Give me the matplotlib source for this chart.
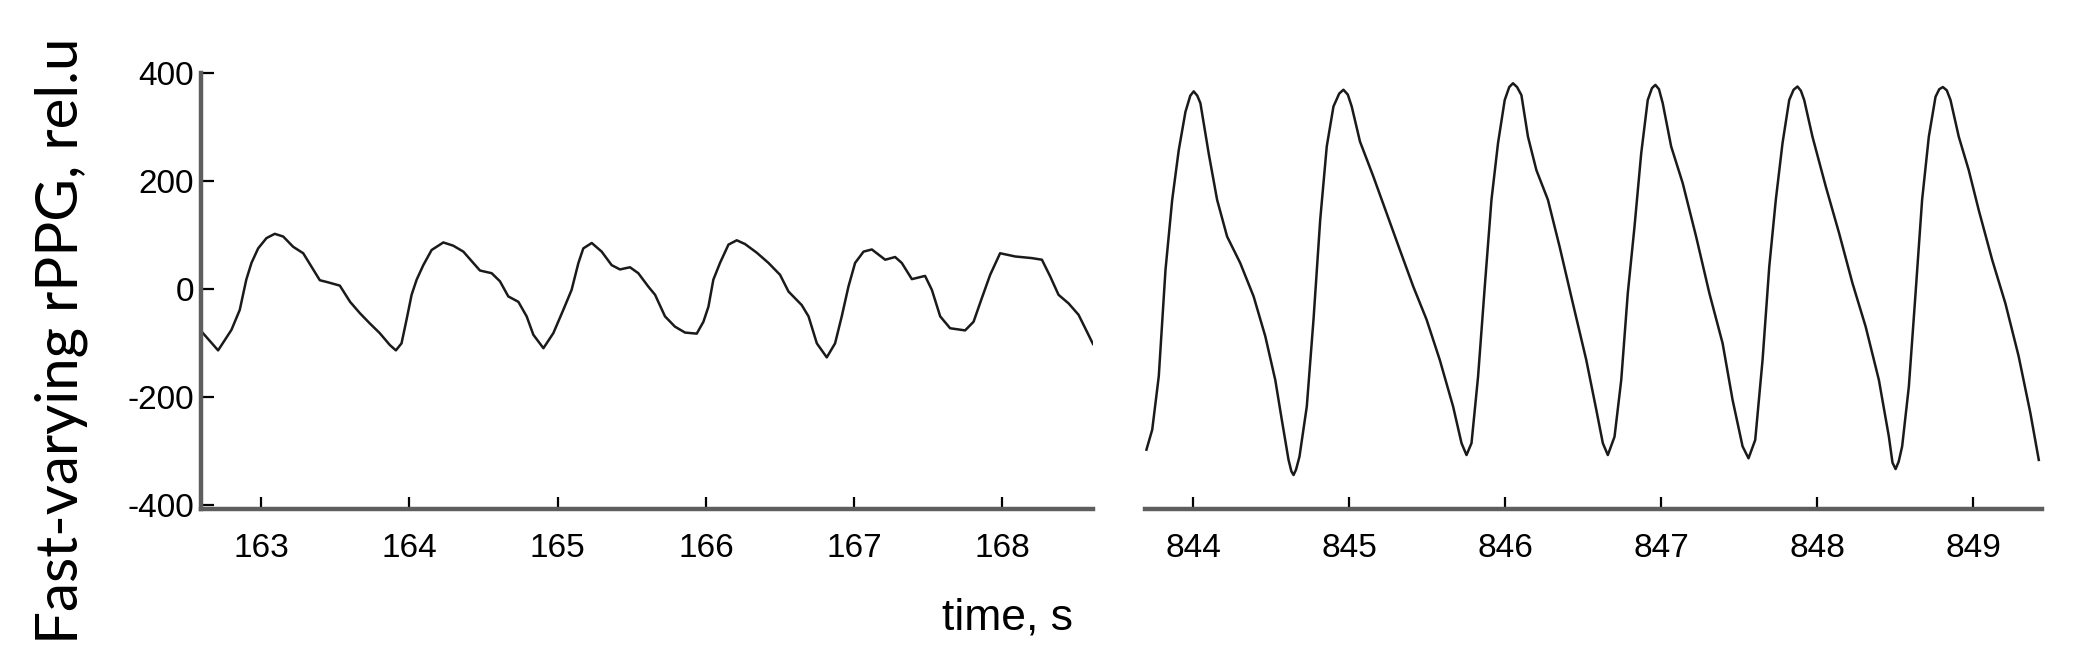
import matplotlib
matplotlib.use("Agg")
import matplotlib.pyplot as plt

plt.rcParams['axes.unicode_minus'] = False

# rPPG traces (time in s, value in rel.u)
left_t = [162.598, 162.71, 162.80, 162.856, 162.90, 162.935, 162.98, 163.036, 163.092, 163.149,
          163.216, 163.284, 163.34, 163.396, 163.453, 163.531, 163.60, 163.666, 163.733, 163.80,
          163.868, 163.909, 163.947, 163.981, 164.015, 164.049, 164.094, 164.15, 164.229, 164.296,
          164.364, 164.431, 164.476, 164.555, 164.611, 164.667, 164.735, 164.791, 164.836, 164.904,
          164.971, 165.038, 165.094, 165.14, 165.173, 165.23, 165.297, 165.364, 165.42, 165.488,
          165.544, 165.612, 165.657, 165.724, 165.791, 165.859, 165.938, 165.983, 166.017, 166.05,
          166.095, 166.152, 166.208, 166.264, 166.343, 166.422, 166.50, 166.557, 166.646, 166.692,
          166.748, 166.815, 166.871, 166.916, 166.961, 167.006, 167.063, 167.119, 167.209, 167.276,
          167.321, 167.389, 167.478, 167.524, 167.58, 167.647, 167.748, 167.805, 167.861, 167.917,
          167.984, 168.086, 168.198, 168.266, 168.322, 168.378, 168.446, 168.513, 168.569, 168.61]
left_v = [-79, -114, -76, -39, 17, 48, 75, 94, 102, 97,
          78, 66, 41, 16, 12, 6, -24, -45, -64, -82,
          -104, -114, -101, -57, -11, 17, 44, 72, 86, 80,
          69, 48, 34, 29, 14, -14, -24, -51, -85, -110,
          -82, -39, -2, 48, 75, 85, 69, 44, 36, 40,
          29, 4, -11, -51, -70, -81, -83, -61, -33, 17,
          48, 82, 90, 83, 67, 48, 26, -5, -30, -51,
          -101, -127, -101, -51, 4, 48, 69, 73, 54, 59,
          48, 18, 24, -2, -51, -73, -77, -61, -17, 26,
          66, 60, 57, 54, 23, -11, -27, -48, -79, -102]

right_t = [843.699, 843.736, 843.778, 843.821, 843.864, 843.906, 843.949, 843.98, 844.002, 844.025, 844.045, 844.098,
           844.152, 844.216, 844.30, 844.386, 844.461, 844.525, 844.567, 844.61, 844.628, 844.642, 844.658, 844.68,
           844.727, 844.77, 844.813, 844.855, 844.898, 844.935, 844.962, 844.99, 845.015, 845.068, 845.154, 845.239,
           845.324, 845.41, 845.495, 845.58, 845.665, 845.719, 845.751, 845.783, 845.825, 845.868,
           845.911, 845.953, 845.996, 846.025, 846.049, 846.075, 846.103, 846.145, 846.199, 846.273, 846.348, 846.433,
           846.519, 846.583, 846.625, 846.657, 846.70, 846.743, 846.785, 846.828, 846.871, 846.913,
           846.94, 846.962, 846.985, 847.009, 847.063, 847.137, 847.223, 847.308, 847.393, 847.457, 847.521, 847.559,
           847.602, 847.649, 847.692, 847.734, 847.777, 847.82, 847.848, 847.873, 847.895, 847.916, 847.969, 848.055,
           848.14, 848.225, 848.31, 848.395, 848.459, 848.482, 848.502, 848.522, 848.544, 848.587, 848.63, 848.672,
           848.715, 848.758, 848.782, 848.805, 848.83, 848.854, 848.907, 848.971, 849.035, 849.121, 849.206, 849.291,
           849.366, 849.42]
right_v = [-298, -261, -162, 35, 165, 257, 328, 358, 366, 358, 344, 251,
           165, 97, 48, -14, -88, -169, -243, -317, -338, -345, -335, -311,
           -218, -57, 128, 264, 338, 362, 369, 360, 338, 273, 208, 140,
           72, 4, -57, -132, -218, -286, -308, -286, -163, 4,
           165, 270, 350, 374, 381, 374, 359, 282, 220, 165, 78, -27,
           -132, -224, -286, -308, -274, -169, -8, 115, 251, 350,
           372, 378, 370, 344, 264, 196, 97, -8, -101, -206, -292, -314,
           -280, -132, 41, 165, 270, 350, 369, 375, 367, 350, 282, 189,
           103, 11, -70, -169, -274, -322, -334, -320, -292, -181, -8, 165,
           282, 356, 370, 374, 368, 350, 282, 220, 146, 54, -27, -125,
           -230, -317]

left_ticks = [163, 164, 165, 166, 167, 168]
right_ticks = [844, 845, 846, 847, 848, 849]
y_ticks = [-400, -200, 0, 200, 400]

tick_font = ['Liberation Sans', 'DejaVu Sans']
spine_col = '#5e5e5e'
line_col = '#1a1a1a'

fig = plt.figure(figsize=(20.77, 6.62), dpi=100)
ax1 = fig.add_axes([0.0968, 0.2311, 0.4294, 0.6586])
ax2 = fig.add_axes([0.5513, 0.2311, 0.4318, 0.6586])

ax1.plot(left_t, left_v, color=line_col, lw=1.8, solid_joinstyle='round')
ax2.plot(right_t, right_v, color=line_col, lw=1.8, solid_joinstyle='round')

ax1.set_xlim(162.595, 168.61)
ax2.set_xlim(843.69, 849.44)
for ax in (ax1, ax2):
    ax.set_ylim(-408, 400)
    for s in ('top', 'right'):
        ax.spines[s].set_visible(False)
    ax.spines['bottom'].set_color(spine_col)
    ax.spines['bottom'].set_linewidth(3.2)
    ax.tick_params(axis='x', direction='in', length=9, width=1.6, color='black', pad=17)
    ax.patch.set_alpha(0)

ax1.spines['left'].set_color(spine_col)
ax1.spines['left'].set_linewidth(3.2)
ax1.set_yticks(y_ticks)
ax1.tick_params(axis='y', direction='in', length=9, width=1.6, color='black', pad=5)
ax2.spines['left'].set_visible(False)
ax2.set_yticks([])

ax1.set_xticks(left_ticks)
ax2.set_xticks(right_ticks)
for ax in (ax1, ax2):
    for lab in ax.get_xticklabels() + ax.get_yticklabels():
        lab.set_fontfamily(tick_font)
        lab.set_fontsize(24)

fig.text(0.0295, 0.485, 'Fast-varying rPPG, rel.u', rotation=90, ha='center', va='center',
         fontsize=42, family=['Lato', 'DejaVu Sans'])
fig.text(0.4853, 0.0665, 'time, s', ha='center', va='center', fontsize=32, family=tick_font)

fig.savefig('out.png', dpi=100)
